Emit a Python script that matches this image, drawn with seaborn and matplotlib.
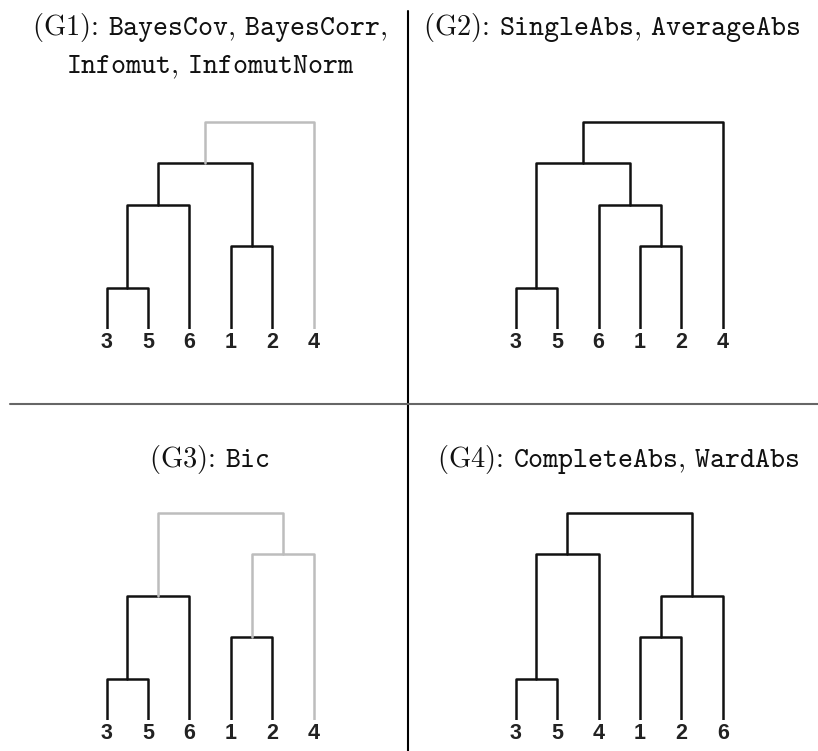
import numpy as np
import pandas as pd
import matplotlib
matplotlib.use("Agg")
import matplotlib.pyplot as plt
from matplotlib.lines import Line2D
import seaborn as sns

# leaf order, merges (pairs of cluster names), merge heights, grey flags
g1_leaves = ["3", "5", "6", "1", "2", "4"]
g1_merges = [("3", "5"), ("1", "2"), ("35", "6"), ("356", "12"), ("35612", "4")]
g1_heights = [1, 2, 3, 4, 5]
g1_grey = [False, False, False, False, True]

g2_leaves = ["3", "5", "6", "1", "2", "4"]
g2_merges = [("3", "5"), ("1", "2"), ("6", "12"), ("35", "612"), ("35612", "4")]
g2_heights = [1, 2, 3, 4, 5]
g2_grey = [False, False, False, False, False]

g3_leaves = ["3", "5", "6", "1", "2", "4"]
g3_merges = [("3", "5"), ("1", "2"), ("35", "6"), ("12", "4"), ("356", "124")]
g3_heights = [1, 2, 3, 4, 5]
g3_grey = [False, False, False, True, True]

g4_leaves = ["3", "5", "4", "1", "2", "6"]
g4_merges = [("3", "5"), ("1", "2"), ("12", "6"), ("35", "4"), ("354", "126")]
g4_heights = [1, 2, 3, 4, 5]
g4_grey = [False, False, False, False, False]

titles = [
    ["(G1): $\\mathtt{BayesCov}$, $\\mathtt{BayesCorr}$,",
     "$\\mathtt{Infomut}$, $\\mathtt{InfomutNorm}$"],
    ["(G2): $\\mathtt{SingleAbs}$, $\\mathtt{AverageAbs}$"],
    ["(G3): $\\mathtt{Bic}$"],
    ["(G4): $\\mathtt{CompleteAbs}$, $\\mathtt{WardAbs}$"],
]

BLACK = "#111111"
GREY = "#bdbdbd"


def dendro_segments(leaves, merges, heights, grey):
    """Builds the U-shaped link polylines of a dendrogram."""
    pos = {name: (i, 0.0) for i, name in enumerate(leaves)}
    rows = []
    for k, ((a, b), h, g) in enumerate(zip(merges, heights, grey)):
        xa, ya = pos[a]
        xb, yb = pos[b]
        for x, y in [(xa, ya), (xa, h), (xb, h), (xb, yb)]:
            rows.append({"x": x, "y": y, "seg": k, "grey": g})
        pos[a + b] = ((xa + xb) / 2, h)
    return pd.DataFrame(rows)


sns.set_theme(style="white")
plt.rcParams["mathtext.fontset"] = "cm"

W, H = 818, 751
fig = plt.figure(figsize=(W / 100, H / 100), dpi=100)

# axes boxes in pixels: left, base line (from top)
boxes = [(86, 329), (495, 329), (86, 720), (495, 720)]
step = 41.4
panels = [
    (g1_leaves, g1_merges, g1_heights, g1_grey),
    (g2_leaves, g2_merges, g2_heights, g2_grey),
    (g3_leaves, g3_merges, g3_heights, g3_grey),
    (g4_leaves, g4_merges, g4_heights, g4_grey),
]

for (left, base), (leaves, merges, heights, grey) in zip(boxes, panels):
    ax = fig.add_axes([left / W, (H - base) / H, 6 * step / W, 5.5 * step / H])
    df = dendro_segments(leaves, merges, heights, grey)
    # leaf stems are drawn as part of the first link of each leaf
    sns.lineplot(data=df, x="x", y="y", units="seg", estimator=None, sort=False,
                 hue="grey", palette={False: BLACK, True: GREY},
                 linewidth=1.8, legend=False, ax=ax)
    ax.set_xlim(-0.5, 5.5)
    ax.set_ylim(0, 5.5)
    ax.set_xticks(range(len(leaves)))
    ax.set_xticklabels(leaves, fontfamily="Liberation Sans", fontweight="bold",
                       fontsize=15.5, color="#222222")
    ax.tick_params(axis="x", length=0, pad=2.5)
    ax.set_yticks([])
    ax.set_xlabel("")
    ax.set_ylabel("")
    sns.despine(ax=ax, left=True, bottom=True)

# titles (baselines in pixels)
title_pos = [(210, [35, 73]), (612, [35]), (210, [467]), (618, [467])]
for (cx, ys), lines in zip(title_pos, titles):
    for y, s in zip(ys, lines):
        fig.text(cx / W, 1 - y / H, s, ha="center", va="baseline",
                 fontfamily="cmr10", fontsize=20.5, color="#111111")

# dividers
fig.add_artist(Line2D([408 / W, 408 / W], [0, 1 - 11 / H], color="#000000",
                      linewidth=1.5, transform=fig.transFigure))
fig.add_artist(Line2D([10 / W, 1], [1 - 404 / H, 1 - 404 / H], color="#666666",
                      linewidth=1.5, transform=fig.transFigure))

fig.savefig("out.png", dpi=100, facecolor="white")
